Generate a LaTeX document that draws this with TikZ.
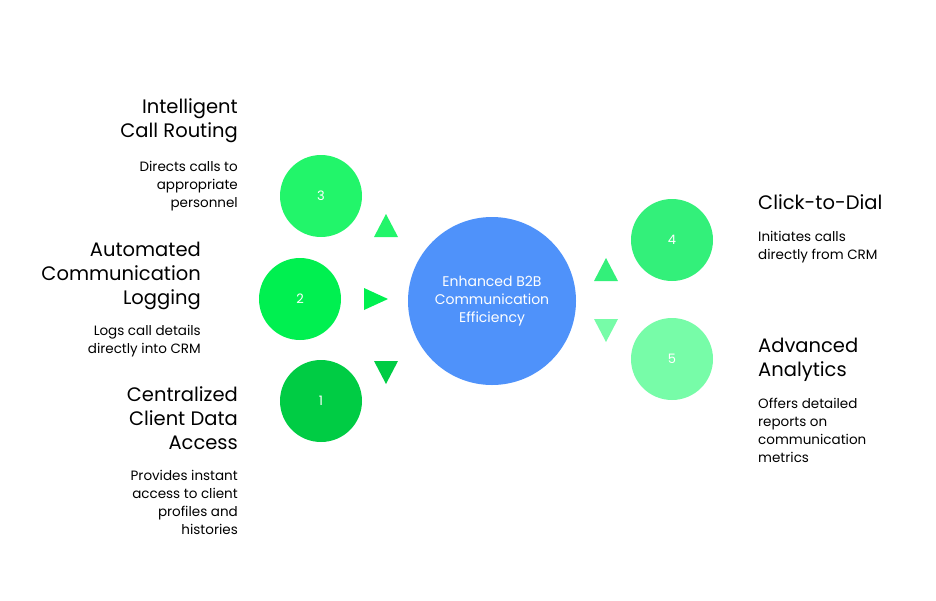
\documentclass[tikz,border=0pt]{standalone}
\usepackage{fontspec}
\setmainfont{Poppins}
\begin{document}
\begin{tikzpicture}[x=1pt,y=-1pt,
 circ/.style={circle,draw=none,minimum size=#1,inner sep=0pt,text=white,font=\fontsize{13}{15}\selectfont},
 ttl/.style={font=\fontsize{19.5}{24}\selectfont,align=#1,inner sep=0pt},
 dsc/.style={font=\fontsize{13.5}{18}\selectfont,align=#1,inner sep=0pt}]
\useasboundingbox (0,0) rectangle (936,600);
\definecolor{cc}{HTML}{4F92FA}
\definecolor{c1}{HTML}{00CC44}
\definecolor{c2}{HTML}{00F050}
\definecolor{c3}{HTML}{22F56A}
\definecolor{c4}{HTML}{33F07A}
\definecolor{c5}{HTML}{77FCA8}
\node[circ=168pt,fill=cc,font=\fontsize{14}{18}\selectfont,align=center] (c) at (492,301) {Enhanced B2B\\Communication\\Efficiency};
\node[circ=82pt,fill=c3] (n3) at (321,196) {3};
\node[circ=82pt,fill=c2] (n2) at (300,299) {2};
\node[circ=82pt,fill=c1] (n1) at (321,401) {1};
\node[circ=82pt,fill=c4] (n4) at (672,240) {4};
\node[circ=82pt,fill=c5] (n5) at (672,359) {5};
\fill[c3] (374,237) -- (398,237) -- (386,214) -- cycle;
\fill[c2] (364,288) -- (364,310) -- (388,299) -- cycle;
\fill[c1] (374,361) -- (398,361) -- (386,384) -- cycle;
\fill[c4] (594,281) -- (618,281) -- (606,258) -- cycle;
\fill[c5] (594,319) -- (618,319) -- (606,342) -- cycle;
\node[ttl=right,anchor=north east] (t3) at (238,98) {Intelligent\\Call Routing};
\node[dsc=right,anchor=north east] (d3) at (238,161) {Directs calls to\\appropriate\\personnel};
\node[ttl=right,anchor=north east] (t2) at (201,242) {Automated\\Communication\\Logging};
\node[dsc=right,anchor=north east] (d2) at (201,325) {Logs call details\\directly into CRM};
\node[ttl=right,anchor=north east] (t1) at (238,386) {Centralized\\Client Data\\Access};
\node[dsc=right,anchor=north east] (d1) at (238,470) {Provides instant\\access to client\\profiles and\\histories};
\node[ttl=left,anchor=north west] (t4) at (758,194) {Click-to-Dial};
\node[dsc=left,anchor=north west] (d4) at (758,231) {Initiates calls\\directly from CRM};
\node[ttl=left,anchor=north west] (t5) at (758,338) {Advanced\\Analytics};
\node[dsc=left,anchor=north west] (d5) at (758,398) {Offers detailed\\reports on\\communication\\metrics};
\end{tikzpicture}
\end{document}
